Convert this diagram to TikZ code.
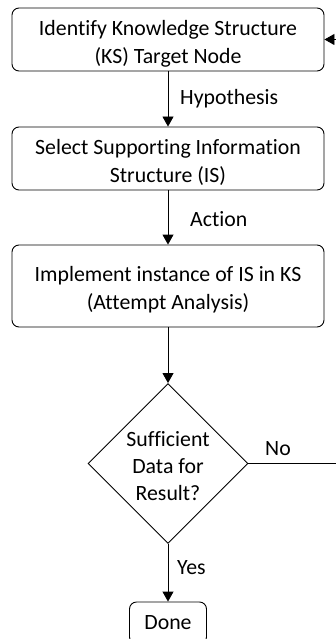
\documentclass[tikz,border=0pt]{standalone}
\usepackage{fontspec}
\setmainfont{Carlito}[Ligatures=NoCommon]
\usetikzlibrary{shapes.geometric,arrows.meta}
% centred lines, set a little below the middle of their box
\newcommand{\lowlines}[2][4pt]{\raisebox{-#1}[\height][\depth]{%
  \begin{tabular}{@{}c@{}}#2\end{tabular}}}
\begin{document}
\begin{tikzpicture}[x=1pt,y=-1pt,
  every node/.style={font=\fontsize{21.8}{28}\selectfont},
  box/.style={draw, rounded corners=7pt, line width=0.9pt,
    minimum width=312pt, inner sep=0pt},
  decision/.style={draw, diamond, aspect=1, line width=0.9pt,
    inner sep=-6pt, minimum width=160pt, minimum height=160pt,
    font=\fontsize{21.8}{27}\selectfont},
  arr/.style={line width=0.9pt, -{Triangle[width=11pt,length=10pt]}},
  lbl/.style={inner sep=0pt}]
\useasboundingbox (0,0) rectangle (336,639);
\clip (0,0) rectangle (336,639);

% process steps
\node[box, minimum height=63pt] (b1) at (168,39.5)
  {\lowlines{Identify Knowledge Structure\\(KS) Target Node}};
\node[box, minimum height=63pt] (b2) at (168,158.5)
  {\lowlines{Select Supporting Information\\Structure (IS)}};
\node[box, minimum height=82pt] (b3) at (168,286)
  {\lowlines{Implement instance of IS in KS\\(Attempt Analysis)}};
\node[decision] (dec) at (168,463.5)
  {\lowlines[5pt]{Sufficient\\Data for\\Result?}};
\node[draw, rounded corners=7pt, line width=0.9pt, minimum width=77pt,
  minimum height=42pt, inner sep=0pt] (done) at (168,623) {Done};

% connectors
\draw[arr] (b1) -- (b2);
\draw[arr] (b2) -- (b3);
\draw[arr] (b3) -- (dec);
\draw[arr] (dec) -- (done);
\draw[arr] (dec.east) -- ++(93,0) coordinate (loop) |- (b1.east);

% connector labels
\node[lbl, anchor=base west] (hyp) at (180,105) {Hypothesis};
\node[lbl, anchor=base west] (act) at (190,226) {Action};
\node[lbl, anchor=base west] (no) at (265,455) {No};
\node[lbl, anchor=base west] (yes) at (177,574) {Yes};
\end{tikzpicture}
\end{document}
